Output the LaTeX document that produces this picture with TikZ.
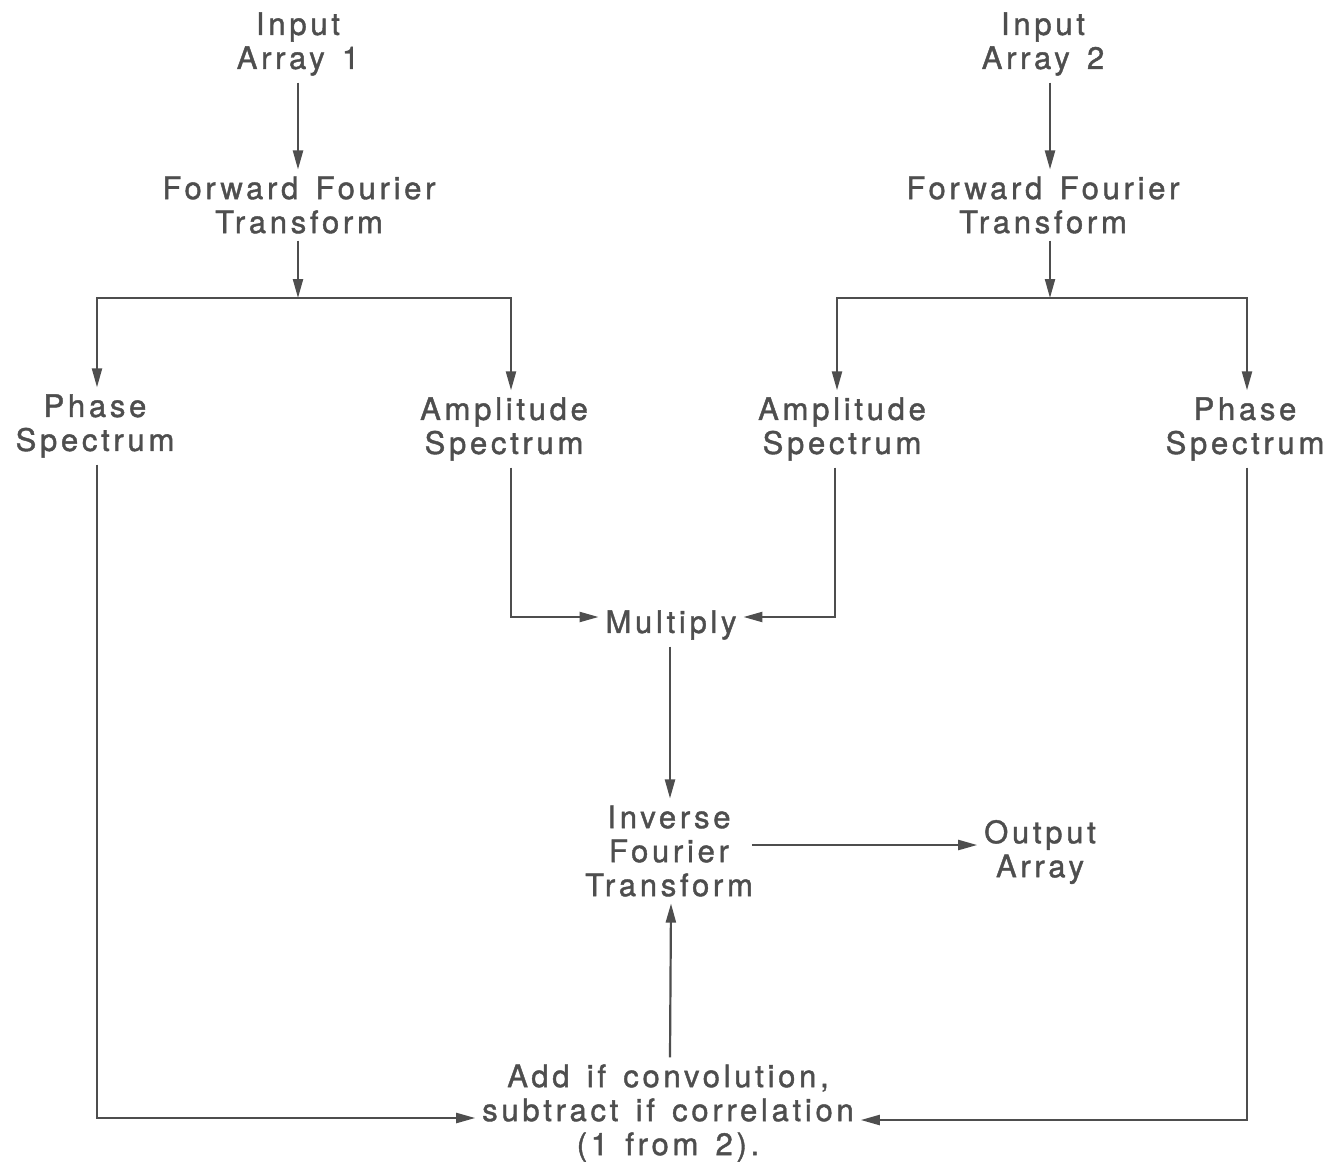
\documentclass[tikz,border=0pt]{standalone}
\usepackage{fontspec}
\setmainfont{TeX Gyre Heros}[LetterSpace=12,FakeBold=1.3,WordSpace=1.4]
\usetikzlibrary{arrows.meta}
\definecolor{ink}{HTML}{4E4E4E}
\begin{document}
\begin{tikzpicture}[x=1pt,y=-1pt,
  lbl/.style={align=center,text=ink,font=\fontsize{31}{34}\selectfont,inner sep=3pt,outer sep=4pt},
  arr/.style={draw=ink,line width=2.2pt,-{Triangle[length=19pt,width=10pt]}},
  ln/.style={draw=ink,line width=2.2pt}]
\useasboundingbox[fill=white] (0,0) rectangle (1336,1165);
\node[lbl] (in1) at (298,44) {Input\\Array 1};
\node[lbl] (fft1) at (299,205) {Forward Fourier\\Transform};
\node[lbl] (ph1) at (95,426) {Phase\\Spectrum};
\node[lbl] (amp1) at (504,429) {Amplitude\\Spectrum};
\node[lbl] (in2) at (1043,44) {Input\\Array 2};
\node[lbl] (fft2) at (1043,205) {Forward Fourier\\Transform};
\node[lbl] (amp2) at (842,429) {Amplitude\\Spectrum};
\node[lbl] (ph2) at (1245,429) {Phase\\Spectrum};
\node[lbl] (mul) at (671,625) {Multiply};
\node[lbl] (ift) at (669,851) {Inverse\\Fourier\\Transform};
\node[lbl] (out) at (1040,852) {Output\\Array};
\node[lbl] (add) at (668,1113) {Add if convolution,\\subtract if correlation\\(1 from 2).};
\coordinate (b1) at (298,298);
\coordinate (b2) at (1050,298);
% left branch
\draw[arr] (in1.south) -- (in1.south |- fft1.north);
\draw[arr] ([xshift=-1pt]fft1.south) -- (b1);
\draw[arr] (b1) -| ([xshift=2pt]ph1.north);
\draw[arr] (b1) -| ([xshift=7pt]amp1.north);
% right branch
\draw[arr] ([xshift=7pt]in2.south) -- ([xshift=7pt]in2.south |- fft2.north);
\draw[arr] ([xshift=7pt]fft2.south) -- (b2);
\draw[arr] (b2) -| ([xshift=-5pt]amp2.north);
\draw[arr] (b2) -| ([xshift=2pt]ph2.north);
% to multiply
\draw[arr] ([xshift=7pt]amp1.south) |- ([yshift=8pt]mul.west);
\draw[arr] ([xshift=-7pt]amp2.south) |- ([yshift=8pt]mul.east);
% multiply to inverse
\draw[arr] ([xshift=-1pt]mul.south) -- ([xshift=-1pt]mul.south |- ift.north);
% inverse to output
\draw[arr] ([xshift=-8pt,yshift=6pt]ift.east) -- ([yshift=6pt]ift.east -| out.west);
% phase to add
\draw[arr] ([xshift=2pt]ph1.south) |- ([yshift=-5pt]add.west);
\draw[arr] ([xshift=2pt]ph2.south) |- ([yshift=-7pt]add.east);
% add to inverse
\draw[arr] ([xshift=2pt]add.north) -- ([xshift=2pt]ift.south);
\end{tikzpicture}
\end{document}
